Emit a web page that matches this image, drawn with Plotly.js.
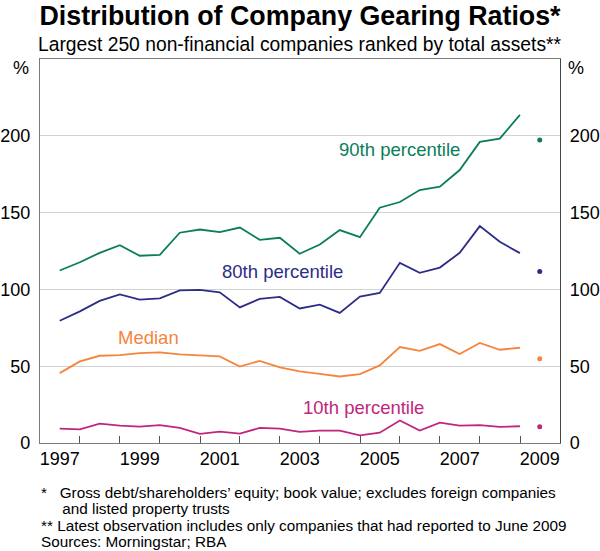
<!DOCTYPE html>
<html>
<head>
<meta charset="utf-8">
<script src="https://cdn.plot.ly/plotly-3.0.1.min.js"></script>
<style>
  html, body { margin: 0; padding: 0; background: #fff; }
  #chart { width: 600px; height: 551px; }
</style>
</head>
<body>
<div id="chart"></div>
<script>
// Half-yearly observation dates (June and December)
const dates = [
  "1997-06-30","1997-12-31","1998-06-30","1998-12-31","1999-06-30","1999-12-31",
  "2000-06-30","2000-12-31","2001-06-30","2001-12-31","2002-06-30","2002-12-31",
  "2003-06-30","2003-12-31","2004-06-30","2004-12-31","2005-06-30","2005-12-31",
  "2006-06-30","2006-12-31","2007-06-30","2007-12-31","2008-06-30","2008-12-31"
];
const latestDate = ["2009-06-30"];

const p90 = [112.3, 117.7, 123.8, 128.8, 121.9, 122.5, 136.9, 139.0, 137.3, 140.3, 132.3, 133.6,
             123.2, 129.2, 138.6, 134.0, 153.2, 156.9, 164.7, 166.9, 177.7, 196.0, 198.2, 213.6];
const p80 = [79.6, 85.7, 92.5, 96.8, 93.3, 94.2, 99.4, 99.7, 98.1, 88.3, 93.8, 95.1,
             87.6, 90.1, 84.7, 95.3, 97.7, 117.3, 110.8, 114.2, 123.8, 141.2, 131.0, 123.6];
const median = [45.5, 53.1, 56.8, 57.2, 58.5, 59.0, 57.7, 57.0, 56.4, 49.8, 53.5, 49.2,
                46.6, 45.0, 43.3, 44.8, 50.5, 62.5, 60.0, 64.4, 57.9, 65.1, 60.7, 62.0];
const p10 = [9.4, 8.9, 12.6, 11.3, 10.7, 11.7, 9.8, 5.9, 7.4, 6.1, 9.8, 9.4,
             7.2, 8.1, 8.1, 5.0, 6.7, 14.6, 8.1, 13.3, 11.3, 11.7, 10.5, 10.9];

const latest90 = [197.3];
const latest80 = [111.6];
const latestMedian = [54.8];
const latest10 = [10.5];

// Axis ticks and labels
const yearTicks = ["1998-01-01","1999-01-01","2000-01-01","2001-01-01","2002-01-01","2003-01-01",
                   "2004-01-01","2005-01-01","2006-01-01","2007-01-01","2008-01-01","2009-01-01"];
const yearLabelPos = ["1997-07-01","1999-07-01","2001-07-01","2003-07-01","2005-07-01","2007-07-01","2009-07-01"];
const yearLabels = ["1997","1999","2001","2003","2005","2007","2009"];
const yTicks = [0, 50, 100, 150, 200];

const footnotes = [
  "*&nbsp;&nbsp;&nbsp;Gross debt/shareholders’ equity; book value; excludes foreign companies",
  "&nbsp;&nbsp;&nbsp;&nbsp;&nbsp;and listed property trusts",
  "** Latest observation includes only companies that had reported to June 2009",
  "Sources: Morningstar; RBA"
];

const cGreen = "#0b7d5a";
const cNavy = "#2d2d88";
const cOrange = "#f5843c";
const cMagenta = "#c1267c";

const FONT = "Arial, 'Liberation Sans', sans-serif";

function lineTrace(y, color) {
  return { x: dates, y: y, type: "scatter", mode: "lines",
           line: { color: color, width: 1.8 }, hoverinfo: "skip", xaxis: "x", yaxis: "y" };
}
function dotTrace(y, color) {
  return { x: latestDate, y: y, type: "scatter", mode: "markers",
           marker: { color: color, size: 5 }, hoverinfo: "skip", xaxis: "x", yaxis: "y" };
}

const traces = [
  lineTrace(p90, cGreen), lineTrace(p80, cNavy), lineTrace(median, cOrange), lineTrace(p10, cMagenta),
  dotTrace(latest90, cGreen), dotTrace(latest80, cNavy), dotTrace(latestMedian, cOrange), dotTrace(latest10, cMagenta),
  // invisible traces to activate label axes
  { x: latestDate, y: [null], type: "scatter", mode: "lines", xaxis: "x2", yaxis: "y", hoverinfo: "skip", showlegend: false },
  { x: latestDate, y: [null], type: "scatter", mode: "lines", xaxis: "x", yaxis: "y2", hoverinfo: "skip", showlegend: false }
];

const xRange = ["1997-01-01", "2010-01-01"];
const yRange = [0, 250];
const TICKSIZE = 18;
const LABELSIZE = 18.5;

const annotations = [
  { text: "Largest 250 non-financial companies ranked by total assets**", xref: "paper", yref: "paper",
    x: 0.5, xanchor: "center", y: 1, yanchor: "middle", yshift: 15, showarrow: false,
    font: { family: FONT, size: 19.3, color: "#000" } },
  { text: "%", xref: "paper", yref: "paper", x: 0, xanchor: "right", xshift: -9, y: 0.977, yanchor: "middle",
    showarrow: false, font: { family: FONT, size: TICKSIZE, color: "#000" } },
  { text: "%", xref: "paper", yref: "paper", x: 1, xanchor: "left", xshift: 6, y: 0.977, yanchor: "middle",
    showarrow: false, font: { family: FONT, size: TICKSIZE, color: "#000" } },
  { text: "90th percentile", xref: "x", yref: "y", x: "2006-01-01", y: 191, xanchor: "center", yanchor: "middle",
    showarrow: false, font: { family: FONT, size: LABELSIZE, color: cGreen } },
  { text: "80th percentile", xref: "x", yref: "y", x: "2003-01-20", y: 111.6, xanchor: "center", yanchor: "middle",
    showarrow: false, font: { family: FONT, size: LABELSIZE, color: cNavy } },
  { text: "Median", xref: "x", yref: "y", x: "1999-09-20", y: 68.5, xanchor: "center", yanchor: "middle",
    showarrow: false, font: { family: FONT, size: LABELSIZE, color: cOrange } },
  { text: "10th percentile", xref: "x", yref: "y", x: "2005-02-05", y: 22.8, xanchor: "center", yanchor: "middle",
    showarrow: false, font: { family: FONT, size: LABELSIZE, color: cMagenta } }
];
const footY = [492, 508, 525, 541];
footnotes.forEach((t, i) => {
  annotations.push({ text: t, xref: "paper", yref: "paper", x: 0, xanchor: "left", xshift: -1,
    y: 0, yanchor: "middle", yshift: -(footY[i] - 443), align: "left", showarrow: false,
    font: { family: FONT, size: 15.3, color: "#000" } });
});

const layout = {
  width: 600, height: 551,
  margin: { l: 40, r: 40, t: 59, b: 108 },
  paper_bgcolor: "#ffffff", plot_bgcolor: "#ffffff",
  showlegend: false,
  font: { family: FONT, size: 16, color: "#000" },
  xaxis: {
    type: "date", range: xRange, tickmode: "array", tickvals: yearTicks,
    ticktext: yearTicks.map(() => ""), ticks: "inside", ticklen: 7, tickwidth: 1, tickcolor: "#555",
    showgrid: false, zeroline: false, showline: true, linecolor: "#7a7a7a", linewidth: 1.2, mirror: true,
    fixedrange: true
  },
  xaxis2: {
    type: "date", range: xRange, overlaying: "x", side: "bottom", anchor: "y",
    tickmode: "array", tickvals: yearLabelPos, ticktext: yearLabels, ticks: "",
    showgrid: false, zeroline: false, showline: false, ticklabelstandoff: 3,
    tickfont: { family: FONT, size: TICKSIZE, color: "#000" }, fixedrange: true
  },
  yaxis: {
    range: yRange, tickmode: "array", tickvals: yTicks, ticks: "",
    showgrid: true, gridcolor: "#d2d2d2", gridwidth: 1, zeroline: false,
    showline: true, linecolor: "#7a7a7a", linewidth: 1.2,
    tickfont: { family: FONT, size: TICKSIZE, color: "#000" }, ticklabelstandoff: 5, fixedrange: true
  },
  yaxis2: {
    range: yRange, overlaying: "y", side: "right", anchor: "x", tickmode: "array", tickvals: yTicks, ticks: "",
    showgrid: false, zeroline: false, showline: true, linecolor: "#444", linewidth: 1.2,
    tickfont: { family: FONT, size: TICKSIZE, color: "#000" }, ticklabelstandoff: 5, fixedrange: true
  },
  title: {
    text: "<b>Distribution of Company Gearing Ratios*</b>",
    font: { family: FONT, size: 26.8, color: "#000" },
    x: 0.5, xanchor: "center", y: 0.9725, yanchor: "middle"
  },
  annotations: annotations
};

Plotly.newPlot("chart", traces, layout, { staticPlot: true, displayModeBar: false });
</script>
</body>
</html>
